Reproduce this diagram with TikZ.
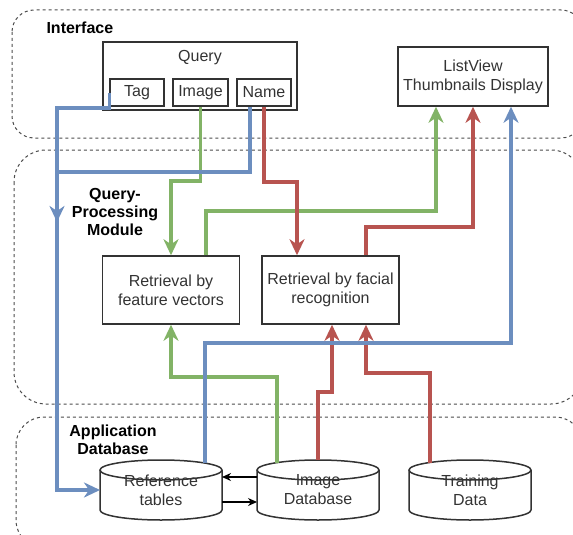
\documentclass[tikz,border=0pt]{standalone}
\usepackage{fontspec}
\setmainfont{Liberation Sans}
\usetikzlibrary{arrows.meta}
\definecolor{qblue}{HTML}{6C8EBF}
\definecolor{qgreen}{HTML}{82B366}
\definecolor{qred}{HTML}{B85450}
\definecolor{qline}{HTML}{333333}
% cylinder drawn round a named node
\newcommand\dbcyl[1]{%
  \draw[dbline] ([yshift=-10pt]#1.north) ellipse [x radius=61pt, y radius=10pt];
  \draw[dbline] ([yshift=-10pt]#1.north west) -- ([yshift=10pt]#1.south west)
    arc [start angle=180, end angle=360, x radius=61pt, y radius=10pt]
    -- ([yshift=-10pt]#1.north east);
}
\begin{document}
\begin{tikzpicture}[x=1pt, y=-1pt,
  every node/.style={font=\fontsize{16}{19}\selectfont, text=qline},
  region/.style={draw=black!70, line width=1pt, dash pattern=on 3pt off 3pt},
  regionlabel/.style={font=\fontsize{16}{18}\selectfont\bfseries, text=black, align=center},
  box/.style={draw=qline, line width=1.5pt, align=center, inner sep=0pt},
  cyl/.style={minimum width=122pt, minimum height=60pt, align=center, inner sep=0pt, outer sep=0pt},
  dbline/.style={draw=qline, line width=1.5pt},
  tip/.style={-{Stealth[length=16pt, width=15pt, inset=5pt]}},
  blueline/.style={draw=qblue, line width=3.2pt, tip},
  greenline/.style={draw=qgreen, line width=3.2pt, tip},
  redline/.style={draw=qred, line width=3.2pt, tip},
  blackline/.style={draw=black, line width=1.4pt, -{Stealth[length=9pt, width=8pt]}}]
\useasboundingbox (0,0) rectangle (573,535);
% regions
\draw[region, rounded corners=22pt] (12,10) rectangle (583,138);
\draw[region, rounded corners=32pt] (14,150) rectangle (583,404);
\draw[region, rounded corners=28pt] (16,417) rectangle (583,548);
\node[regionlabel, anchor=west] (iflabel) at (43,28) {Interface};
\node[regionlabel] (qplabel) at (115,212) {Query-\\Processing\\Module};
\node[regionlabel] (dblabel) at (113,440) {Application\\Database};
% interface
\node[box, minimum width=194pt, minimum height=68pt] (query) at (200,76) {};
\node (querytext) at (200,58) {Query};
\node[box, minimum width=54pt, minimum height=27pt] (tag) at (137,92.5) {Tag};
\node[box, minimum width=55pt, minimum height=27pt] (image) at (200.5,92.5) {Image};
\node[box, minimum width=54pt, minimum height=27pt] (name) at (264,92.5) {Name};
\node[box, minimum width=150pt, minimum height=59pt] (listview) at (473,76.5) {ListView\\Thumbnails Display};
% query processing
\node[box, minimum width=137pt, minimum height=68pt] (feature) at (171,290) {Retrieval by\\feature vectors};
\node[box, minimum width=137pt, minimum height=68pt] (facial) at (330.5,290) {Retrieval by facial\\recognition};
% databases
\node[cyl] (ref) at (161,490) {Reference\\tables};
\node[cyl] (imgdb) at (318,490) {Image\\Database};
\node[cyl] (training) at (470,490) {Training\\Data};
\dbcyl{ref}
\dbcyl{imgdb}
\dbcyl{training}
% connectors
\draw[greenline] (image.south) |- (171,181) -- (feature.north);
\draw[greenline] ([xshift=35pt]feature.north) |- (436,211) -- ([xshift=-37pt]listview.south);
\draw[greenline] ([xshift=-41pt, yshift=-3pt]imgdb.north) |- (171,377) -- (feature.south);
\draw[redline] (name.south) |- (297,182) -- ([xshift=-33.5pt]facial.north);
\draw[redline] ([xshift=35.5pt]facial.north) |- (473,227) -- (listview.south);
\draw[redline] (imgdb.north) |- (332,392) -- ([xshift=1.5pt]facial.south);
\draw[redline] ([xshift=-40pt, yshift=-3pt]training.north) |- (366,373) -- ([xshift=35.5pt]facial.south);
\draw[blueline] (tag.west) |- (57,108) |- (ref.west);
\draw[blueline] ([xshift=-14pt]name.south) |- (57,172) -- (57,222);
\draw[blueline] ([xshift=44pt, yshift=-3pt]ref.north) |- (511,343) -- ([xshift=38pt]listview.south);
\draw[blackline] ([yshift=13pt]imgdb.west) -- ([yshift=13pt]ref.east);
\draw[blackline] ([yshift=-12pt]ref.east) -- ([yshift=-12pt]imgdb.west);
\end{tikzpicture}
\end{document}
